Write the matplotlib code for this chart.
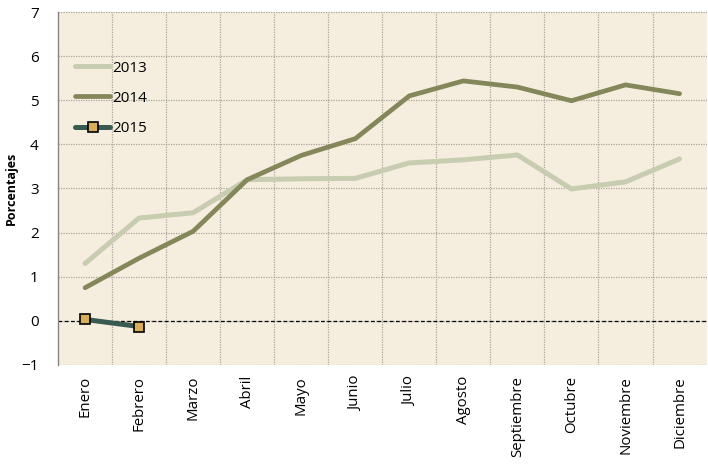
import numpy as np
import matplotlib.pyplot as plt

months = ["Enero", "Febrero", "Marzo", "Abril", "Mayo", "Junio", "Julio",
          "Agosto", "Septiembre", "Octubre", "Noviembre", "Diciembre"]
y2013 = [1.30, 2.33, 2.45, 3.20, 3.22, 3.23, 3.58, 3.65, 3.76, 2.99, 3.15, 3.67]
y2014 = [0.75, 1.42, 2.03, 3.20, 3.75, 4.13, 5.10, 5.44, 5.30, 4.99, 5.35, 5.15]
y2015 = [0.03, -0.13]

plt.rcParams['font.family'] = ['Open Sans', 'DejaVu Sans']

fig = plt.figure(figsize=(7.08, 4.66), dpi=100)
ax = fig.add_axes([0.082, 0.217, 0.916, 0.757])
ax.set_facecolor("#F5EEDE")

x = np.arange(len(months))
ax.plot(x, y2013, color="#C8CCB1", lw=3.6, solid_capstyle="round", label="2013", zorder=3)
ax.plot(x, y2014, color="#83875A", lw=3.4, solid_capstyle="round", label="2014", zorder=3)
ax.plot(x[:len(y2015)], y2015, color="#385A50", lw=3.6, solid_capstyle="round",
        marker="s", markersize=7, markerfacecolor="#D9AE5A", markeredgecolor="black",
        markeredgewidth=1.2, label="2015", zorder=4)

ax.axhline(0, color="black", lw=0.9, ls=(0, (3, 2)), zorder=2)

ax.set_xlim(-0.5, len(months) - 0.5)
ax.set_ylim(-1, 7)
ax.set_yticks(range(-1, 8))
ax.set_xticks(x)
ax.set_xticklabels(months, rotation=90, fontsize=10.8)
ax.set_xticks(np.arange(0.5, len(months) - 0.5, 1), minor=True)
ax.tick_params(axis="both", which="both", length=0)
ax.tick_params(axis="y", labelsize=11, pad=14)
ax.tick_params(axis="x", pad=8)

ax.grid(axis="y", which="major", color="#ABA59C", lw=0.9, ls=(0, (1, 1)))
ax.grid(axis="x", which="minor", color="#ABA59C", lw=0.9, ls=(0, (1, 1)))
ax.set_axisbelow(True)

for s in ["top", "right", "bottom"]:
    ax.spines[s].set_visible(False)
ax.spines["left"].set_color("#868686")
ax.spines["left"].set_linewidth(1.0)

ax.set_ylabel("Porcentajes", fontsize=9, fontweight="bold", labelpad=2)

ax.legend(loc="upper left", bbox_to_anchor=(0.017, 0.88), frameon=False,
          fontsize=11, handlelength=2.3, handletextpad=0.1, labelspacing=1.0,
          borderaxespad=0)

plt.savefig("out.png", dpi=100)
